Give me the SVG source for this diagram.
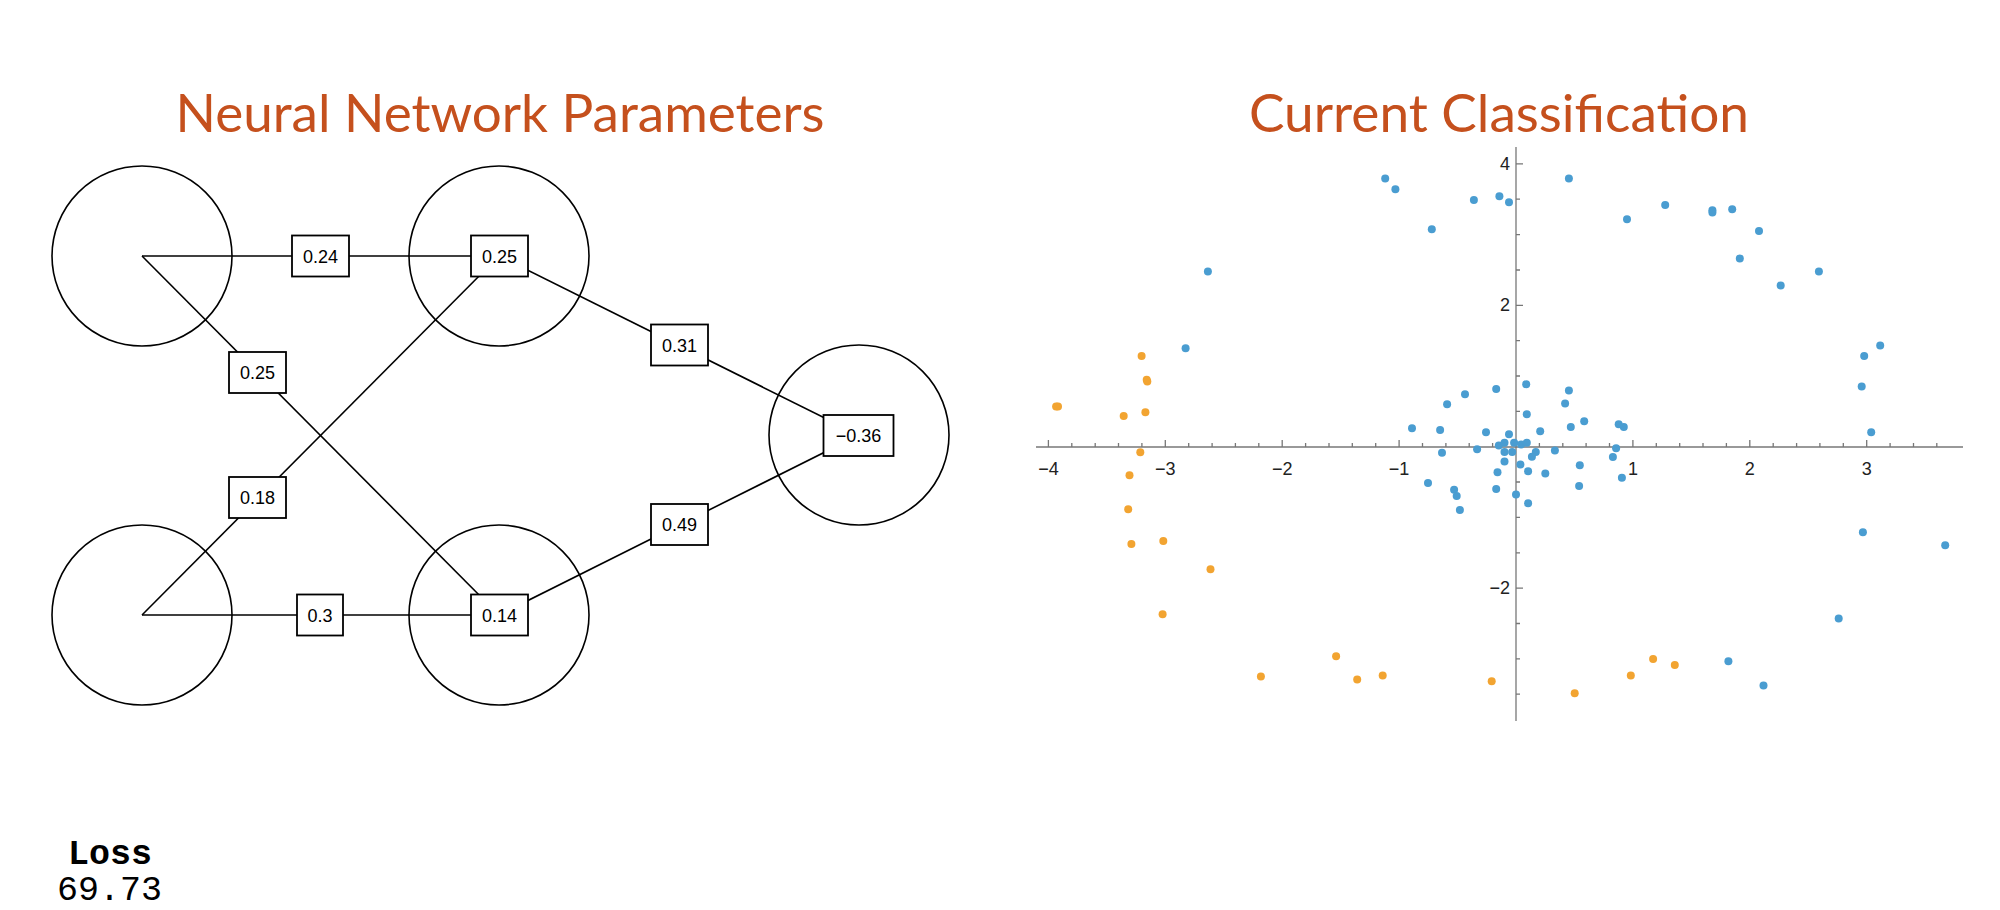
<svg xmlns="http://www.w3.org/2000/svg" width="2000" height="910" viewBox="0 0 2000 910">
<style>
.title{font-family:Lato,"Liberation Sans",sans-serif;font-size:52px;fill:#c5501d;text-anchor:middle}
.node{fill:none;stroke:#000;stroke-width:1.6}
.edge{stroke:#000;stroke-width:1.6;fill:none}
.box{fill:#fff;stroke:#000;stroke-width:1.8}
.lbl{font-family:"Liberation Sans",Arial,sans-serif;font-size:18px;text-anchor:middle;fill:#000}
.ax{stroke:#777;stroke-width:1.3;fill:none}
.tk{font-family:"Liberation Sans",Arial,sans-serif;font-size:18px;fill:#222}
.b{fill:#4a9dd1}
.o{fill:#f2a431}
.mono{font-family:"Liberation Mono","Courier New",monospace;font-size:35px;fill:#000}
</style>
<rect width="2000" height="910" fill="#fff"/>
<text class="title" x="500" y="132" textLength="649" lengthAdjust="spacingAndGlyphs">Neural Network Parameters</text>
<text class="title" x="1499" y="132" textLength="500" lengthAdjust="spacingAndGlyphs">Current Classification</text>
<g id="connectors">
<line class="edge" x1="142" y1="256" x2="499" y2="256"/>
<line class="edge" x1="142" y1="256" x2="499" y2="615"/>
<line class="edge" x1="142" y1="615" x2="499" y2="256"/>
<line class="edge" x1="142" y1="615" x2="499" y2="615"/>
<line class="edge" x1="499" y1="256" x2="859" y2="435"/>
<line class="edge" x1="499" y1="615" x2="859" y2="435"/>
</g>
<g id="n_in1"><circle class="node" cx="142" cy="256" r="90"/></g>
<g id="n_in2"><circle class="node" cx="142" cy="615" r="90"/></g>
<g id="n_h1"><circle class="node" cx="499" cy="256" r="90"/></g>
<g id="n_h2"><circle class="node" cx="499" cy="615" r="90"/></g>
<g id="n_out"><circle class="node" cx="859" cy="435" r="90"/></g>
<g id="w1"><rect class="box" x="292" y="235.5" width="57" height="41"/><text class="lbl" x="320.5" y="262.5">0.24</text></g>
<g id="w2"><rect class="box" x="229" y="352" width="57" height="41"/><text class="lbl" x="257.5" y="379">0.25</text></g>
<g id="w3"><rect class="box" x="229" y="477" width="57" height="41"/><text class="lbl" x="257.5" y="504">0.18</text></g>
<g id="w4"><rect class="box" x="297" y="594.5" width="46" height="41"/><text class="lbl" x="320" y="621.5">0.3</text></g>
<g id="b1"><rect class="box" x="471" y="235.5" width="57" height="41"/><text class="lbl" x="499.5" y="262.5">0.25</text></g>
<g id="b2"><rect class="box" x="471" y="594.5" width="57" height="41"/><text class="lbl" x="499.5" y="621.5">0.14</text></g>
<g id="w5"><rect class="box" x="651" y="324.5" width="57" height="41"/><text class="lbl" x="679.5" y="351.5">0.31</text></g>
<g id="w6"><rect class="box" x="651" y="504" width="57" height="41"/><text class="lbl" x="679.5" y="531">0.49</text></g>
<g id="b3"><rect class="box" x="823.5" y="415" width="70" height="41"/><text class="lbl" x="858.5" y="442">−0.36</text></g>
<g id="plot">
<line class="ax" x1="1036" y1="447" x2="1963" y2="447"/>
<line class="ax" x1="1516" y1="147" x2="1516" y2="721"/>
<path class="ax" d="M1048.4 447v-7M1071.8 447v-4M1095.2 447v-4M1118.5 447v-4M1141.9 447v-4M1165.3 447v-7M1188.7 447v-4M1212.1 447v-4M1235.4 447v-4M1258.8 447v-4M1282.2 447v-7M1305.6 447v-4M1329 447v-4M1352.3 447v-4M1375.7 447v-4M1399.1 447v-7M1422.5 447v-4M1445.9 447v-4M1469.2 447v-4M1492.6 447v-4M1539.4 447v-4M1562.8 447v-4M1586.1 447v-4M1609.5 447v-4M1632.9 447v-7M1656.3 447v-4M1679.7 447v-4M1703 447v-4M1726.4 447v-4M1749.8 447v-7M1773.2 447v-4M1796.6 447v-4M1819.9 447v-4M1843.3 447v-4M1866.7 447v-7M1890.1 447v-4M1913.5 447v-4M1936.8 447v-4"/>
<path class="ax" d="M1516 163.9h7M1516 199.2h4M1516 234.6h4M1516 270h4M1516 305.3h7M1516 340.7h4M1516 376h4M1516 411.4h4M1516 482h4M1516 517.4h4M1516 552.8h4M1516 588.1h7M1516 623.5h4M1516 658.8h4M1516 694.2h4"/>
<g class="tk" text-anchor="middle">
<text x="1048.4" y="475">−4</text><text x="1165.3" y="475">−3</text><text x="1282.2" y="475">−2</text><text x="1399.1" y="475">−1</text><text x="1632.9" y="475">1</text><text x="1749.8" y="475">2</text><text x="1866.7" y="475">3</text>
</g>
<g class="tk" text-anchor="end">
<text x="1510" y="170">4</text><text x="1510" y="311">2</text><text x="1510" y="594">−2</text>
</g>
<g class="b">
<circle cx="1385.2" cy="178.5" r="4"/><circle cx="1395.4" cy="189.2" r="4"/><circle cx="1568.9" cy="178.5" r="4"/><circle cx="1473.9" cy="199.9" r="4"/><circle cx="1499.4" cy="196.2" r="4"/><circle cx="1509" cy="202.2" r="4"/><circle cx="1431.8" cy="229.2" r="4"/><circle cx="1627" cy="219.2" r="4"/><circle cx="1665.2" cy="205.1" r="4"/><circle cx="1712.4" cy="210.3" r="4"/><circle cx="1712.4" cy="212.5" r="4"/><circle cx="1732.2" cy="209.2" r="4"/><circle cx="1759" cy="231" r="4"/><circle cx="1739.8" cy="258.4" r="4"/><circle cx="1818.9" cy="271.4" r="4"/><circle cx="1780.7" cy="285.4" r="4"/><circle cx="1207.9" cy="271.4" r="4"/><circle cx="1185.6" cy="348.3" r="4"/><circle cx="1880.2" cy="345.4" r="4"/><circle cx="1864.2" cy="356.1" r="4"/><circle cx="1861.7" cy="386.4" r="4"/><circle cx="1871.2" cy="432.3" r="4"/><circle cx="1526.2" cy="384.2" r="4"/><circle cx="1496.2" cy="389" r="4"/><circle cx="1568.9" cy="390.5" r="4"/><circle cx="1465" cy="394.2" r="4"/><circle cx="1447.1" cy="404.2" r="4"/><circle cx="1565.1" cy="403.4" r="4"/><circle cx="1526.8" cy="414.2" r="4"/><circle cx="1584.2" cy="421.2" r="4"/><circle cx="1618.7" cy="424.2" r="4"/><circle cx="1623.8" cy="427.1" r="4"/><circle cx="1412" cy="428.2" r="4"/><circle cx="1440.1" cy="430.1" r="4"/><circle cx="1486" cy="432.3" r="4"/><circle cx="1509" cy="434.2" r="4"/><circle cx="1540.2" cy="431.2" r="4"/><circle cx="1570.8" cy="427.1" r="4"/><circle cx="1498.8" cy="445.6" r="4"/><circle cx="1504.5" cy="442.7" r="4"/><circle cx="1514.1" cy="442.7" r="4"/><circle cx="1521.1" cy="444.5" r="4"/><circle cx="1526.8" cy="442.7" r="4"/><circle cx="1512.2" cy="451.9" r="4"/><circle cx="1504.5" cy="451.9" r="4"/><circle cx="1535.8" cy="451.9" r="4"/><circle cx="1477.1" cy="449.3" r="4"/><circle cx="1442" cy="452.7" r="4"/><circle cx="1554.9" cy="450.4" r="4"/><circle cx="1616.1" cy="448.2" r="4"/><circle cx="1531.9" cy="456.7" r="4"/><circle cx="1504.5" cy="461.5" r="4"/><circle cx="1520.4" cy="464.5" r="4"/><circle cx="1579.8" cy="465.2" r="4"/><circle cx="1612.9" cy="457.1" r="4"/><circle cx="1497.5" cy="472.3" r="4"/><circle cx="1528.1" cy="471.2" r="4"/><circle cx="1545.3" cy="473.4" r="4"/><circle cx="1621.9" cy="477.8" r="4"/><circle cx="1428" cy="483" r="4"/><circle cx="1454.1" cy="489.7" r="4"/><circle cx="1496.2" cy="488.9" r="4"/><circle cx="1579.1" cy="486" r="4"/><circle cx="1456.7" cy="495.9" r="4"/><circle cx="1516" cy="494.5" r="4"/><circle cx="1528.1" cy="503.3" r="4"/><circle cx="1459.9" cy="510" r="4"/><circle cx="1862.9" cy="532.2" r="4"/><circle cx="1945.2" cy="545.2" r="4"/><circle cx="1838.7" cy="618.4" r="4"/><circle cx="1728.4" cy="661.3" r="4"/><circle cx="1763.5" cy="685.4" r="4"/>
</g>
<g class="o">
<circle cx="1058" cy="406.4" r="4"/><circle cx="1056.1" cy="406.4" r="4"/><circle cx="1123.7" cy="416" r="4"/><circle cx="1145.4" cy="412.3" r="4"/><circle cx="1141.6" cy="356.1" r="4"/><circle cx="1146.7" cy="379.8" r="4"/><circle cx="1147.3" cy="381.6" r="4"/><circle cx="1140.3" cy="452.3" r="4"/><circle cx="1129.5" cy="475.2" r="4"/><circle cx="1128.2" cy="509.3" r="4"/><circle cx="1131.4" cy="544" r="4"/><circle cx="1163.3" cy="541.1" r="4"/><circle cx="1210.5" cy="569.2" r="4"/><circle cx="1162.6" cy="614.3" r="4"/><circle cx="1336.1" cy="656.2" r="4"/><circle cx="1260.9" cy="676.5" r="4"/><circle cx="1357.2" cy="679.5" r="4"/><circle cx="1382.7" cy="675.4" r="4"/><circle cx="1491.7" cy="681.3" r="4"/><circle cx="1574.7" cy="693.2" r="4"/><circle cx="1630.8" cy="675.4" r="4"/><circle cx="1653.1" cy="659.1" r="4"/><circle cx="1674.8" cy="665" r="4"/>
</g>
</g>
<text class="mono" x="68" y="864" font-weight="bold">Loss</text>
<text class="mono" x="57" y="900">69.73</text>
</svg>
